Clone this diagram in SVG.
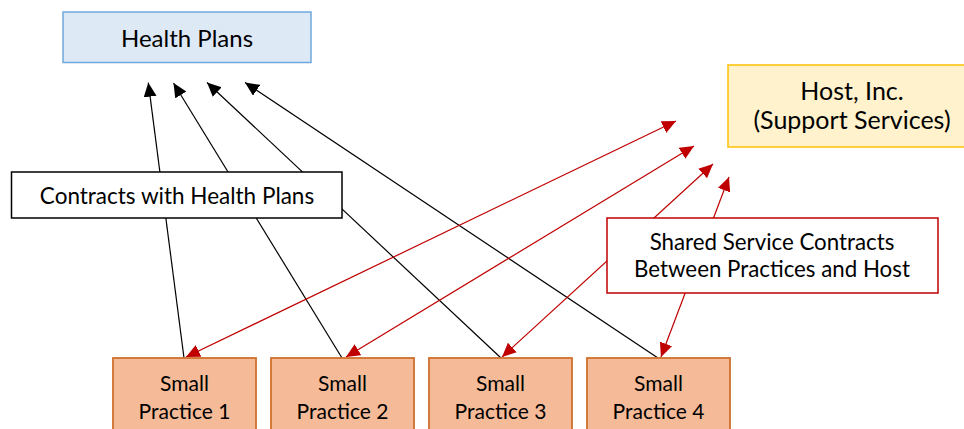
<svg xmlns="http://www.w3.org/2000/svg" width="964" height="429" viewBox="0 0 964 429">
<style>
text{font-family:"Lato","Liberation Sans",sans-serif;fill:#000;text-anchor:middle}
.blk{stroke:#000;stroke-width:1.2;fill:none;marker-end:url(#ab)}
.red{stroke:#c00000;stroke-width:1.2;fill:none;marker-end:url(#ar);marker-start:url(#ar)}
.sp rect{fill:#f5bb98;stroke:#d0702e;stroke-width:1.8}
.sp text{font-size:21px}
</style>
<defs>
<marker id="ab" markerUnits="userSpaceOnUse" markerWidth="15" markerHeight="14" refX="14" refY="6.5" orient="auto"><path d="M0,0 L14,6.5 L0,13 z" fill="#000"/></marker>
<marker id="ar" markerUnits="userSpaceOnUse" markerWidth="15" markerHeight="14" refX="14" refY="6.5" orient="auto-start-reverse"><path d="M0,0 L14,6.5 L0,13 z" fill="#c00000"/></marker>
</defs>
<rect width="964" height="429" fill="#fff"/>
<g id="connectors">
<line class="blk" x1="184" y1="358" x2="148.3" y2="82.7"/>
<line class="blk" x1="342" y1="358" x2="173.5" y2="83"/>
<line class="blk" x1="501" y1="358" x2="207" y2="82.5"/>
<line class="blk" x1="658" y1="358" x2="245" y2="82.5"/>
<line class="red" x1="186" y1="357" x2="676" y2="121"/>
<line class="red" x1="346" y1="357" x2="694" y2="146"/>
<line class="red" x1="502" y1="357" x2="713" y2="164"/>
<line class="red" x1="661" y1="357" x2="729" y2="177"/>
</g>
<g id="health-plans">
<rect x="63" y="12" width="248" height="50.5" fill="#dee9f6" stroke="#6fa8dc" stroke-width="1.5"/>
<text x="187" y="46.5" font-size="24">Health Plans</text>
</g>
<g id="host">
<rect x="728" y="65" width="250" height="82" fill="#fff2cc" stroke="#ffc000" stroke-width="1.5"/>
<text x="852" y="100" font-size="25">Host, Inc.</text>
<text x="852" y="129" font-size="25">(Support Services)</text>
</g>
<g id="contracts-label">
<rect x="11.5" y="172" width="330.5" height="46" fill="#fff" stroke="#000" stroke-width="1.5"/>
<text x="177" y="204" font-size="22.5">Contracts with Health Plans</text>
</g>
<g id="shared-label">
<rect x="607" y="218" width="331" height="75" fill="#fff" stroke="#c00000" stroke-width="1.5"/>
<text x="772" y="250" font-size="22.3">Shared Service Contracts</text>
<text x="772" y="277" font-size="22.3">Between Practices and Host</text>
</g>
<g id="practice-1" class="sp">
<rect x="113" y="358" width="143" height="80"/>
<text x="184.5" y="391">Small</text>
<text x="184.5" y="419">Practice 1</text>
</g>
<g id="practice-2" class="sp">
<rect x="271" y="358" width="143" height="80"/>
<text x="342.5" y="391">Small</text>
<text x="342.5" y="419">Practice 2</text>
</g>
<g id="practice-3" class="sp">
<rect x="429" y="358" width="143" height="80"/>
<text x="500.5" y="391">Small</text>
<text x="500.5" y="419">Practice 3</text>
</g>
<g id="practice-4" class="sp">
<rect x="587" y="358" width="143" height="80"/>
<text x="658.5" y="391">Small</text>
<text x="658.5" y="419">Practice 4</text>
</g>
</svg>
